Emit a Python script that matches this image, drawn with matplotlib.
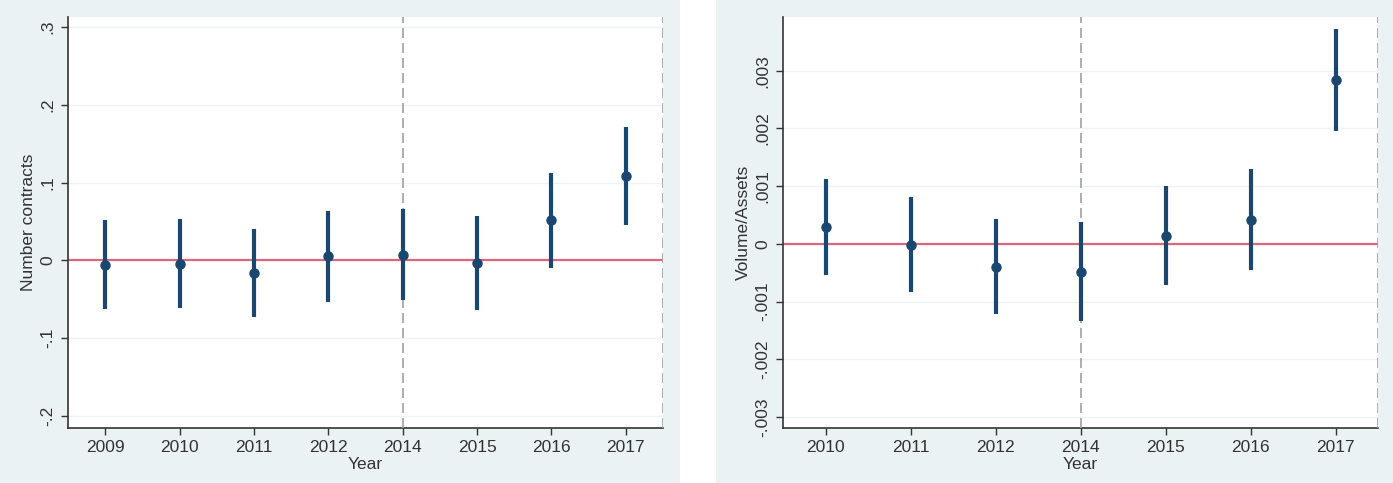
import matplotlib
matplotlib.use("Agg")
import matplotlib.pyplot as plt
from matplotlib.patches import Rectangle

# left panel: number of contracts
years_left = ["2009", "2010", "2011", "2012", "2014", "2015", "2016", "2017"]
coef_left = [-0.0056, -0.004, -0.016, 0.0056, 0.0073, -0.0034, 0.0515, 0.1086]
hi_left = [0.0515, 0.053, 0.041, 0.063, 0.0665, 0.0567, 0.113, 0.171]
lo_left = [-0.062, -0.061, -0.073, -0.053, -0.0515, -0.0635, -0.0099, 0.046]
yticks_left = [-0.2, -0.1, 0.0, 0.1, 0.2, 0.3]
ylabels_left = ["-.2", "-.1", "0", ".1", ".2", ".3"]

# right panel: volume / assets
years_right = ["2010", "2011", "2012", "2014", "2015", "2016", "2017"]
coef_right = [0.000289, -0.0000116, -0.0004, -0.00048, 0.000133, 0.00042, 0.00284]
hi_right = [0.001116, 0.00082, 0.000434, 0.000376, 0.001, 0.00129, 0.00373]
lo_right = [-0.000538, -0.00084, -0.00121, -0.00133, -0.00072, -0.000445, 0.00195]
yticks_right = [-0.003, -0.002, -0.001, 0.0, 0.001, 0.002, 0.003]
ylabels_right = ["-.003", "-.002", "-.001", "0", ".001", ".002", ".003"]

NAVY = "#1A476F"
BG = "#EAF2F3"
ZERO = "#D9687D"

plt.rcParams["font.family"] = ["Liberation Sans", "DejaVu Sans"]
plt.rcParams["font.size"] = 12.5

W, H = 1393, 483
fig = plt.figure(figsize=(W / 100, H / 100), dpi=100)
fig.patch.set_facecolor("white")
fig.patches.append(Rectangle((0, 0), 680 / W, 1, transform=fig.transFigure,
                             facecolor=BG, edgecolor="none", zorder=-10))
fig.patches.append(Rectangle((716 / W, 0), 1 - 716 / W, 1, transform=fig.transFigure,
                             facecolor=BG, edgecolor="none", zorder=-10))


def panel(rect, years, coef, lo, hi, yticks, ylabels, ylim, ylabel, line_at):
    ax = fig.add_axes(rect)
    ax.set_facecolor("white")
    x = list(range(len(years)))
    yerr = [[c - l for c, l in zip(coef, lo)], [h - c for c, h in zip(coef, hi)]]
    ax.errorbar(x, coef, yerr=yerr, fmt="o", color=NAVY, ecolor=NAVY,
                elinewidth=3, markersize=6.5, capsize=0, zorder=4)
    ax.axhline(0, color=ZERO, linewidth=1.6, zorder=2)
    for xv in (line_at, len(years) - 0.5):
        ax.axvline(xv, color="#A0A0A0", linewidth=1.2, linestyle=(0, (6, 3)), zorder=3)
    ax.set_xlim(-0.5, len(years) - 0.5)
    ax.set_ylim(*ylim)
    ax.set_xticks(x)
    ax.set_xticklabels(years)
    ax.set_yticks(yticks)
    ax.set_yticklabels(ylabels, rotation=90, va="center")
    ax.grid(axis="y", color="#EEF3F4", linewidth=1.0, zorder=0)
    ax.set_axisbelow(True)
    ax.tick_params(axis="both", direction="out", length=5, width=1, color="#333333",
                   labelcolor="#333333", pad=4)
    for s in ["top", "right"]:
        ax.spines[s].set_visible(False)
    for s in ["left", "bottom"]:
        ax.spines[s].set_color("#333333")
        ax.spines[s].set_linewidth(1.2)
    ax.set_xlabel("Year", color="#333333", labelpad=1)
    ax.set_ylabel(ylabel, color="#333333", labelpad=3)
    return ax


bottom = 1 - 428 / H
height = (428 - 17) / H
panel([68 / W, bottom, (663 - 68) / W, height], years_left, coef_left, lo_left, hi_left,
      yticks_left, ylabels_left, (-0.2155, 0.313), "Number contracts", 4)
panel([783 / W, bottom, (1378 - 783) / W, height], years_right, coef_right, lo_right, hi_right,
      yticks_right, ylabels_right, (-0.00319, 0.00393), "Volume/Assets", 3)

fig.savefig("out.png", dpi=100)
